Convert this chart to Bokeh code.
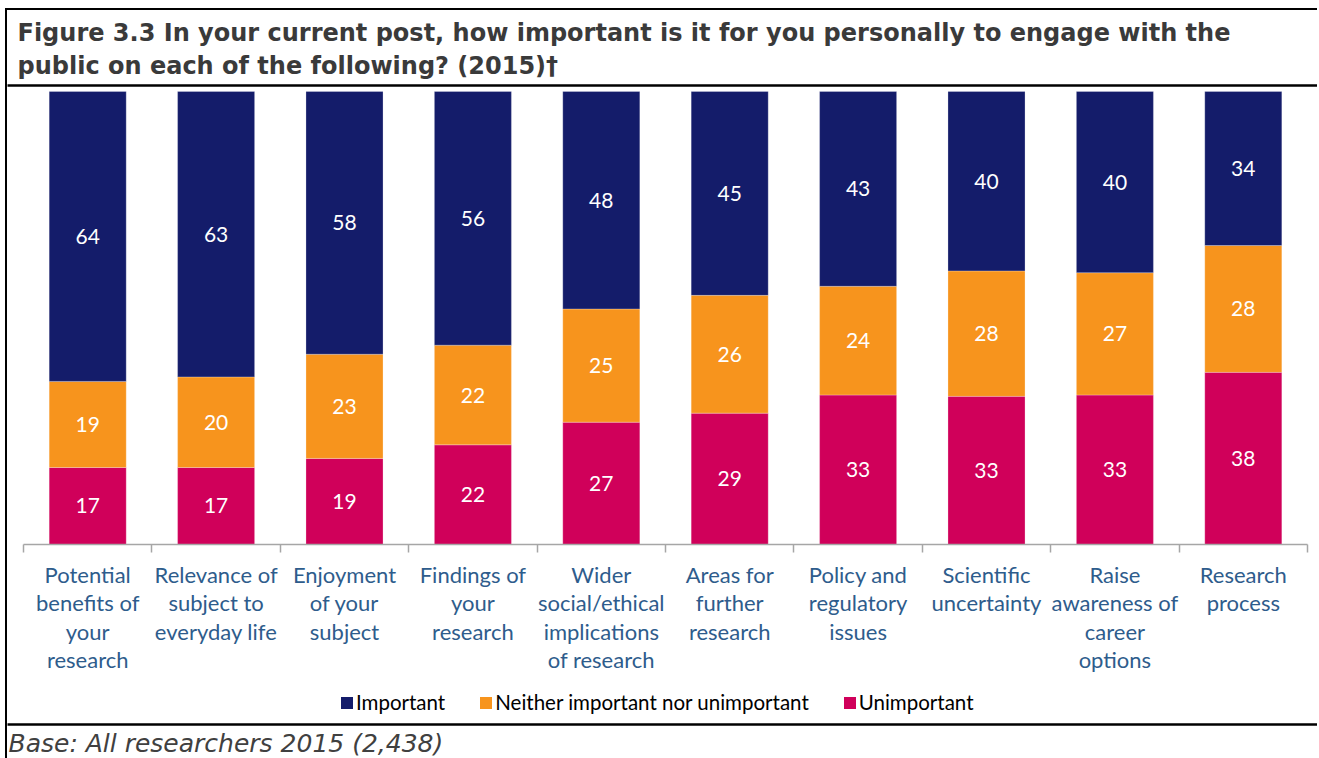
from bokeh.plotting import figure
from bokeh.layouts import column
from bokeh.models import (Range1d, LinearAxis, FixedTicker, Title,
                          ColumnDataSource, Legend, LegendItem)
from bokeh.core.properties import value
from bokeh.embed import file_html
from bokeh.resources import INLINE

# ---- data ----
categories = ["Potential\nbenefits of\nyour\nresearch",
              "Relevance of\nsubject to\neveryday life",
              "Enjoyment\nof your\nsubject",
              "Findings of\nyour\nresearch",
              "Wider\nsocial/ethical\nimplications\nof research",
              "Areas for\nfurther\nresearch",
              "Policy and\nregulatory\nissues",
              "Scientific\nuncertainty",
              "Raise\nawareness of\ncareer\noptions",
              "Research\nprocess"]
important = [64, 63, 58, 56, 48, 45, 43, 39.6, 40, 34]
neither = [19, 20, 23, 22, 25, 26, 24, 27.7, 27, 28]
unimportant = [17, 17, 19, 22, 27, 29, 33, 32.7, 33, 38]
series_names = ["Important", "Neither important nor unimportant", "Unimportant"]
title_text = ("Figure 3.3 In your current post, how important is it for you personally to engage with the\n"
              "public on each of the following? (2015)\u2020")
footer_text = "Base: All researchers 2015 (2,438)"

NAVY = "#141C6A"
ORANGE = "#F7941D"
PINK = "#D0005A"
LABEL_BLUE = "#2E5C8C"
FONT = "Lato"

n = len(categories)
centers = [i + 0.5 for i in range(n)]
boundaries = list(range(n + 1))

# ---- geometry of the main panel (canvas sits inside a CSS border box) ----
W, H1 = 1312, 680
PAD_L, PAD_R = 16, 12
cat_px = (W - PAD_L - PAD_R) / n
PLOT_TOP, BAR_TOP, PLOT_BOTTOM = 75, 81, 534
px_per_unit = (PLOT_BOTTOM - BAR_TOP) / 100.0
x_rng = Range1d(-PAD_L / cat_px, n + PAD_R / cat_px)

p = figure(width=W, height=H1, x_range=x_rng,
           y_range=Range1d(0, (PLOT_BOTTOM - PLOT_TOP) / px_per_unit),
           x_axis_location=None, y_axis_location=None, title_location=None,
           toolbar_location=None, output_backend="svg",
           min_border_left=0, min_border_right=0,
           min_border_top=PLOT_TOP, min_border_bottom=H1 - PLOT_BOTTOM,
           styles={"margin-left": "5px", "margin-top": "8px",
                   "border-left": "2px solid black", "border-top": "2px solid black"})
p.outline_line_color = None
p.xgrid.visible = False
p.ygrid.visible = False

src = ColumnDataSource(dict(x=centers, imp=important, nei=neither, uni=unimportant))
rs = p.vbar_stack(["uni", "nei", "imp"], x="x", width=0.6, source=src,
                  color=[PINK, ORANGE, NAVY], line_color="white", line_width=0.5, line_alpha=0.5)

lab_x, lab_y, lab_t = [], [], []
for i in range(n):
    base = 0
    for v in (unimportant[i], neither[i], important[i]):
        lab_x.append(centers[i])
        lab_y.append(base + v / 2)
        lab_t.append(str(int(round(v))))
        base += v
p.text(x=lab_x, y=lab_y, text=lab_t, text_color="white", text_align="center",
       text_baseline="middle", text_font=value(FONT), text_font_size="21px")

x_axis = LinearAxis(ticker=FixedTicker(ticks=centers, minor_ticks=boundaries), bounds=(0, n),
                    axis_line_color="#A6A6A6", axis_line_width=1.5,
                    major_tick_line_color=None, major_tick_out=0, major_tick_in=0,
                    minor_tick_line_color="#A6A6A6", minor_tick_line_width=1.5,
                    minor_tick_out=8, minor_tick_in=0,
                    major_label_text_font=FONT, major_label_text_font_size="22px",
                    major_label_text_color=LABEL_BLUE, major_label_standoff=8,
                    major_label_text_line_height=1.06,
                    major_label_overrides={c: lab for c, lab in zip(centers, categories)})
p.add_layout(x_axis, "below")

title_rule = LinearAxis(ticker=FixedTicker(ticks=[]), axis_line_color="black", axis_line_width=2.5,
                        major_tick_line_color=None, minor_tick_line_color=None,
                        major_label_text_font_size="0px")
p.add_layout(title_rule, "above")
p.add_layout(Title(text=title_text, align="left", offset=10, standoff=10,
                   text_font="DejaVu Sans", text_font_style="bold", text_font_size="24px",
                   text_line_height=1.18, text_color="#3A3A3A"), "above")

# ---- footer panel: legend, rule, base note ----
FOOT_FRAME, FOOT_BELOW = 37, 35
H2 = FOOT_FRAME + FOOT_BELOW
p2 = figure(width=W, height=H2, x_range=Range1d(0, 1), y_range=Range1d(0, 1),
            x_axis_location=None, y_axis_location=None, title_location=None,
            toolbar_location=None, output_backend="svg",
            min_border_left=0, min_border_right=0, min_border_top=0,
            min_border_bottom=FOOT_BELOW,
            styles={"margin-left": "5px", "border-left": "2px solid black"})
p2.outline_line_color = None
p2.xgrid.visible = False
p2.ygrid.visible = False
# zero-height swatch renderers that only feed the legend
swatches = [p2.vbar(x=[0], bottom=[0], top=[0], width=0.0, color=c, line_color=None)
            for c in (NAVY, ORANGE, PINK)]
legend = Legend(items=[LegendItem(label=name, renderers=[r]) for name, r in zip(series_names, swatches)],
                orientation="horizontal", location=(332, 10), padding=0, margin=0,
                spacing=33, glyph_width=15, glyph_height=15, label_standoff=2,
                label_text_font=FONT, label_text_font_size="20.5px", label_text_color="black",
                border_line_color=None, background_fill_alpha=0)
p2.add_layout(legend, "center")

footer_rule = LinearAxis(ticker=FixedTicker(ticks=[]), axis_line_color="black", axis_line_width=2.5,
                         major_tick_line_color=None, minor_tick_line_color=None,
                         major_label_text_font_size="0px")
p2.add_layout(footer_rule, "below")
p2.add_layout(Title(text=footer_text, align="left", offset=1, standoff=5,
                    text_font="DejaVu Sans", text_font_style="italic", text_font_size="25px",
                    text_color="#404040"), "below")

layout = column(p, p2, spacing=0)
open("out.html", "w").write(file_html(layout, INLINE))
